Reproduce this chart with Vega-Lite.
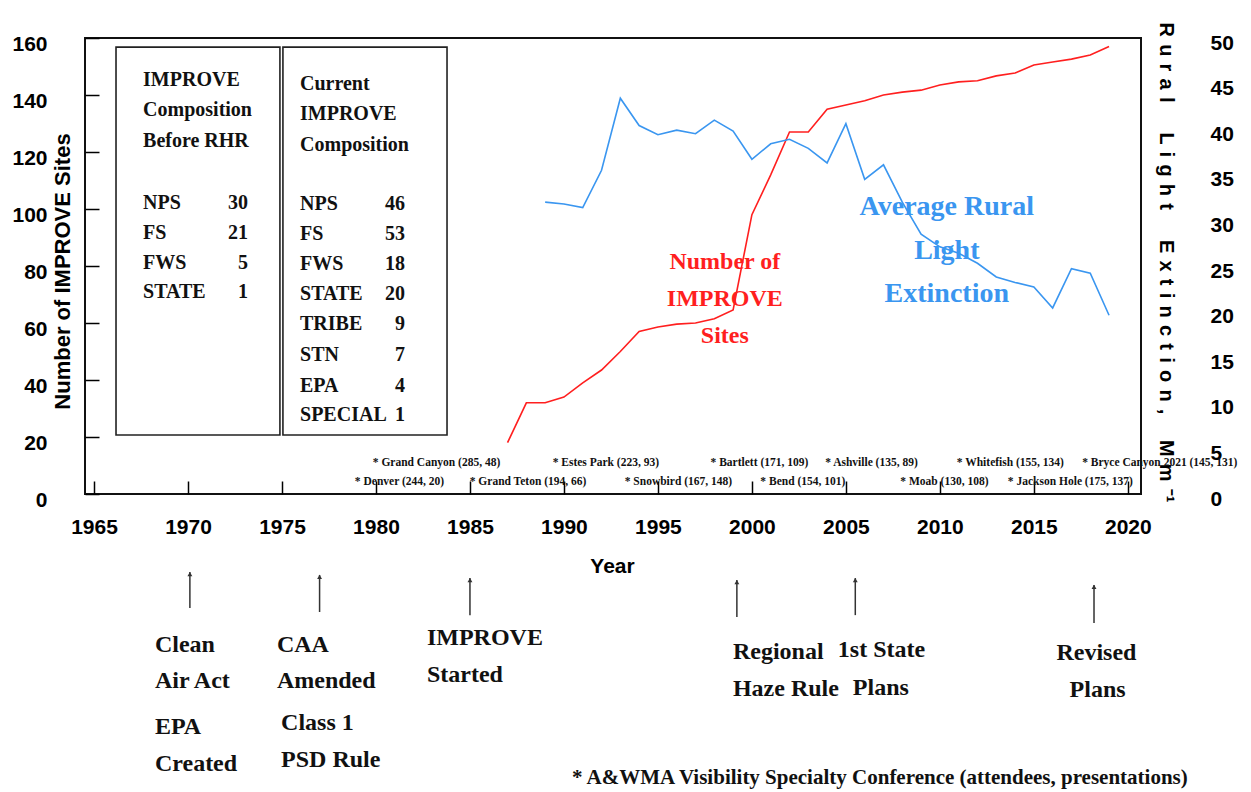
{
  "$schema": "https://vega.github.io/schema/vega-lite/v6.json",
  "width": 1056,
  "height": 456,
  "autosize": {"type": "none"},
  "padding": {"left": 85, "top": 38, "right": 110, "bottom": 298},
  "background": "white",
  "config": {
    "view": {"stroke": "#111", "strokeWidth": 2},
    "axis": {"grid": false, "labelFont": "Liberation Sans", "labelFontWeight": "bold", "labelFontSize": 21, "labelColor": "#000", "titleFont": "Liberation Sans", "titleFontWeight": "bold", "titleColor": "#000", "labelOverlap": false, "labelFlush": false}
  },
  "datasets": {
    "sites": [
      {"year": 1987, "sites": 18}, {"year": 1988, "sites": 32}, {"year": 1989, "sites": 32}, {"year": 1990, "sites": 34},
      {"year": 1991, "sites": 39}, {"year": 1992, "sites": 43.5}, {"year": 1993, "sites": 50}, {"year": 1994, "sites": 57},
      {"year": 1995, "sites": 58.6}, {"year": 1996, "sites": 59.6}, {"year": 1997, "sites": 60}, {"year": 1998, "sites": 61.5},
      {"year": 1999, "sites": 64.6}, {"year": 2000, "sites": 98}, {"year": 2001, "sites": 112}, {"year": 2002, "sites": 127},
      {"year": 2003, "sites": 127}, {"year": 2004, "sites": 135}, {"year": 2005, "sites": 136.5}, {"year": 2006, "sites": 138},
      {"year": 2007, "sites": 140}, {"year": 2008, "sites": 141}, {"year": 2009, "sites": 141.7}, {"year": 2010, "sites": 143.5},
      {"year": 2011, "sites": 144.6}, {"year": 2012, "sites": 145}, {"year": 2013, "sites": 146.7}, {"year": 2014, "sites": 147.7},
      {"year": 2015, "sites": 150.5}, {"year": 2016, "sites": 151.6}, {"year": 2017, "sites": 152.6}, {"year": 2018, "sites": 154},
      {"year": 2019, "sites": 157}
    ],
    "extinction": [
      {"year": 1989, "ext": 32.0}, {"year": 1990, "ext": 31.8}, {"year": 1991, "ext": 31.4}, {"year": 1992, "ext": 35.5},
      {"year": 1993, "ext": 43.4}, {"year": 1994, "ext": 40.4}, {"year": 1995, "ext": 39.4}, {"year": 1996, "ext": 39.9},
      {"year": 1997, "ext": 39.5}, {"year": 1998, "ext": 41.0}, {"year": 1999, "ext": 39.8}, {"year": 2000, "ext": 36.7},
      {"year": 2001, "ext": 38.4}, {"year": 2002, "ext": 38.9}, {"year": 2003, "ext": 37.9}, {"year": 2004, "ext": 36.3},
      {"year": 2005, "ext": 40.6}, {"year": 2006, "ext": 34.5}, {"year": 2007, "ext": 36.1}, {"year": 2008, "ext": 32.0},
      {"year": 2009, "ext": 28.5}, {"year": 2010, "ext": 27.1}, {"year": 2011, "ext": 26.4}, {"year": 2012, "ext": 25.3},
      {"year": 2013, "ext": 23.8}, {"year": 2014, "ext": 23.2}, {"year": 2015, "ext": 22.7}, {"year": 2016, "ext": 20.4},
      {"year": 2017, "ext": 24.7}, {"year": 2018, "ext": 24.2}, {"year": 2019, "ext": 19.6}
    ],
    "boxes": [
      {"x0": 1966.17, "x1": 1974.89, "y0": 156.8, "y1": 20.7},
      {"x0": 1975.05, "x1": 1983.78, "y0": 156.8, "y1": 20.7}
    ],
    "boxLabels": [
      {"year": 1967.61, "v": 145.3, "text": "IMPROVE"},
      {"year": 1967.61, "v": 134.7, "text": "Composition"},
      {"year": 1967.61, "v": 123.9, "text": "Before RHR"},
      {"year": 1967.61, "v": 102.1, "text": "NPS"},
      {"year": 1967.61, "v": 91.6, "text": "FS"},
      {"year": 1967.61, "v": 81.1, "text": "FWS"},
      {"year": 1967.61, "v": 70.9, "text": "STATE"},
      {"year": 1975.96, "v": 143.9, "text": "Current"},
      {"year": 1975.96, "v": 133.3, "text": "IMPROVE"},
      {"year": 1975.96, "v": 122.5, "text": "Composition"},
      {"year": 1975.96, "v": 101.8, "text": "NPS"},
      {"year": 1975.96, "v": 91.2, "text": "FS"},
      {"year": 1975.96, "v": 80.7, "text": "FWS"},
      {"year": 1975.96, "v": 70.2, "text": "STATE"},
      {"year": 1975.96, "v": 59.6, "text": "TRIBE"},
      {"year": 1975.96, "v": 48.8, "text": "STN"},
      {"year": 1975.96, "v": 37.9, "text": "EPA"},
      {"year": 1975.96, "v": 27.7, "text": "SPECIAL"}
    ],
    "boxNumbers": [
      {"year": 1973.19, "v": 102.1, "text": "30"},
      {"year": 1973.19, "v": 91.6, "text": "21"},
      {"year": 1973.19, "v": 81.1, "text": "5"},
      {"year": 1973.19, "v": 70.9, "text": "1"},
      {"year": 1981.54, "v": 101.8, "text": "46"},
      {"year": 1981.54, "v": 91.2, "text": "53"},
      {"year": 1981.54, "v": 80.7, "text": "18"},
      {"year": 1981.54, "v": 70.2, "text": "20"},
      {"year": 1981.54, "v": 59.6, "text": "9"},
      {"year": 1981.54, "v": 48.8, "text": "7"},
      {"year": 1981.54, "v": 37.9, "text": "4"},
      {"year": 1981.54, "v": 27.7, "text": "1"}
    ],
    "conferences": [
      {"year": 1983.22, "v": 11.0, "text": "* Grand Canyon (285, 48)"},
      {"year": 1992.23, "v": 11.0, "text": "* Estes Park (223, 93)"},
      {"year": 2000.40, "v": 11.0, "text": "* Bartlett (171, 109)"},
      {"year": 2006.36, "v": 11.0, "text": "* Ashville (135, 89)"},
      {"year": 2013.75, "v": 11.0, "text": "* Whitefish (155, 134)"},
      {"year": 2021.70, "v": 11.0, "text": "* Bryce Canyon 2021 (145, 131)"},
      {"year": 1981.25, "v": 4.2, "text": "* Denver (244, 20)"},
      {"year": 1988.09, "v": 4.2, "text": "* Grand Teton (194, 66)"},
      {"year": 1996.09, "v": 4.2, "text": "* Snowbird (167, 148)"},
      {"year": 2002.71, "v": 4.2, "text": "* Bend (154, 101)"},
      {"year": 2010.24, "v": 4.2, "text": "* Moab (130, 108)"},
      {"year": 2016.94, "v": 4.2, "text": "* Jackson Hole (175, 137)"}
    ],
    "sitesLabel": [
      {"year": 1998.56, "v": 81.4, "text": "Number of"},
      {"year": 1998.56, "v": 68.4, "text": "IMPROVE"},
      {"year": 1998.56, "v": 55.4, "text": "Sites"}
    ],
    "extLabel": [
      {"year": 2010.37, "v": 100.7, "text": "Average Rural"},
      {"year": 2010.37, "v": 85.3, "text": "Light"},
      {"year": 2010.37, "v": 70.2, "text": "Extinction"}
    ],
    "arrows": [
      {"year": 1970.1, "top": -27.4, "bottom": -40.0},
      {"year": 1977.0, "top": -28.4, "bottom": -41.4},
      {"year": 1985.0, "top": -29.5, "bottom": -42.5},
      {"year": 1999.2, "top": -30.2, "bottom": -43.2},
      {"year": 2005.5, "top": -29.5, "bottom": -42.5},
      {"year": 2018.2, "top": -31.9, "bottom": -45.3}
    ],
    "events": [
      {"year": 1968.24, "v": -53.0, "text": "Clean"},
      {"year": 1968.24, "v": -65.6, "text": "Air Act"},
      {"year": 1968.24, "v": -81.8, "text": "EPA"},
      {"year": 1968.24, "v": -94.7, "text": "Created"},
      {"year": 1974.73, "v": -53.0, "text": "CAA"},
      {"year": 1974.73, "v": -65.6, "text": "Amended"},
      {"year": 1974.95, "v": -80.4, "text": "Class 1"},
      {"year": 1974.95, "v": -93.3, "text": "PSD Rule"},
      {"year": 1982.71, "v": -50.5, "text": "IMPROVE"},
      {"year": 1982.71, "v": -63.5, "text": "Started"},
      {"year": 1998.99, "v": -55.4, "text": "Regional"},
      {"year": 1998.99, "v": -68.4, "text": "Haze Rule"},
      {"year": 2004.57, "v": -54.7, "text": "1st State"},
      {"year": 2005.37, "v": -68.1, "text": "Plans"},
      {"year": 2016.2, "v": -55.8, "text": "Revised"},
      {"year": 2016.9, "v": -68.8, "text": "Plans"}
    ],
    "footnote": [
      {"year": 1990.43, "v": -99.6, "text": "* A&WMA Visibility Specialty Conference (attendees, presentations)"}
    ]
  },
  "layer": [
    {
      "layer": [
        {
          "data": {"name": "sites"},
          "mark": {"type": "line", "color": "#ff1f1f", "strokeWidth": 1.6},
          "encoding": {
            "x": {"field": "year", "type": "quantitative", "scale": {"domain": [1964.52, 2020.7], "nice": false, "zero": false},
              "axis": {"values": [1965, 1970, 1975, 1980, 1985, 1990, 1995, 2000, 2005, 2010, 2015, 2020], "format": "d", "domain": false, "tickSize": -13, "tickColor": "#000", "tickWidth": 1.5, "labelPadding": 35, "title": "Year", "titleFontSize": 21, "titleX": 527, "titleY": 72, "titleBaseline": "middle", "titleAlign": "center"}},
            "y": {"field": "sites", "type": "quantitative", "scale": {"domain": [0, 160], "nice": false, "zero": false},
              "axis": {"values": [0, 20, 40, 60, 80, 100, 120, 140, 160], "domain": false, "tickSize": -14, "tickColor": "#000", "tickWidth": 1.5, "labelPadding": 52, "labelOffset": 6, "title": "Number of IMPROVE Sites", "titleFontSize": 22, "titleX": -23, "titleY": 233, "titleAngle": -90, "titleBaseline": "middle", "titleAlign": "center", "titleLimit": 1000}}
          }
        },
        {
          "data": {"name": "boxes"},
          "mark": {"type": "rect", "fill": null, "stroke": "#222", "strokeWidth": 1.6},
          "encoding": {
            "x": {"field": "x0", "type": "quantitative", "scale": {"domain": [1964.52, 2020.7], "nice": false, "zero": false}},
            "x2": {"field": "x1"},
            "y": {"field": "y0", "type": "quantitative", "scale": {"domain": [0, 160], "nice": false, "zero": false}},
            "y2": {"field": "y1"}
          }
        },
        {
          "data": {"name": "boxLabels"},
          "mark": {"type": "text", "font": "Liberation Serif", "fontWeight": "bold", "fontSize": 20, "align": "left", "baseline": "middle", "color": "#111"},
          "encoding": {
            "x": {"field": "year", "type": "quantitative", "scale": {"domain": [1964.52, 2020.7], "nice": false, "zero": false}},
            "y": {"field": "v", "type": "quantitative", "scale": {"domain": [0, 160], "nice": false, "zero": false}},
            "text": {"field": "text"}
          }
        },
        {
          "data": {"name": "boxNumbers"},
          "mark": {"type": "text", "font": "Liberation Serif", "fontWeight": "bold", "fontSize": 20, "align": "right", "baseline": "middle", "color": "#111"},
          "encoding": {
            "x": {"field": "year", "type": "quantitative", "scale": {"domain": [1964.52, 2020.7], "nice": false, "zero": false}},
            "y": {"field": "v", "type": "quantitative", "scale": {"domain": [0, 160], "nice": false, "zero": false}},
            "text": {"field": "text"}
          }
        },
        {
          "data": {"name": "conferences"},
          "mark": {"type": "text", "font": "Liberation Serif", "fontWeight": "bold", "fontSize": 11.5, "align": "center", "baseline": "middle", "color": "#111"},
          "encoding": {
            "x": {"field": "year", "type": "quantitative", "scale": {"domain": [1964.52, 2020.7], "nice": false, "zero": false}},
            "y": {"field": "v", "type": "quantitative", "scale": {"domain": [0, 160], "nice": false, "zero": false}},
            "text": {"field": "text"}
          }
        },
        {
          "data": {"name": "sitesLabel"},
          "mark": {"type": "text", "font": "Liberation Serif", "fontWeight": "bold", "fontSize": 24, "align": "center", "baseline": "middle", "color": "#ff1f1f"},
          "encoding": {
            "x": {"field": "year", "type": "quantitative", "scale": {"domain": [1964.52, 2020.7], "nice": false, "zero": false}},
            "y": {"field": "v", "type": "quantitative", "scale": {"domain": [0, 160], "nice": false, "zero": false}},
            "text": {"field": "text"}
          }
        },
        {
          "data": {"name": "extLabel"},
          "mark": {"type": "text", "font": "Liberation Serif", "fontWeight": "bold", "fontSize": 28, "align": "center", "baseline": "middle", "color": "#3a96f0"},
          "encoding": {
            "x": {"field": "year", "type": "quantitative", "scale": {"domain": [1964.52, 2020.7], "nice": false, "zero": false}},
            "y": {"field": "v", "type": "quantitative", "scale": {"domain": [0, 160], "nice": false, "zero": false}},
            "text": {"field": "text"}
          }
        },
        {
          "data": {"name": "arrows"},
          "mark": {"type": "rule", "color": "#333", "strokeWidth": 1.5},
          "encoding": {
            "x": {"field": "year", "type": "quantitative", "scale": {"domain": [1964.52, 2020.7], "nice": false, "zero": false}},
            "y": {"field": "top", "type": "quantitative", "scale": {"domain": [0, 160], "nice": false, "zero": false}},
            "y2": {"field": "bottom"}
          }
        },
        {
          "data": {"name": "arrows"},
          "mark": {"type": "point", "shape": "triangle-up", "filled": true, "color": "#333", "size": 24, "opacity": 1, "yOffset": 2},
          "encoding": {
            "x": {"field": "year", "type": "quantitative", "scale": {"domain": [1964.52, 2020.7], "nice": false, "zero": false}},
            "y": {"field": "top", "type": "quantitative", "scale": {"domain": [0, 160], "nice": false, "zero": false}}
          }
        },
        {
          "data": {"name": "events"},
          "mark": {"type": "text", "font": "Liberation Serif", "fontWeight": "bold", "fontSize": 24, "align": "left", "baseline": "middle", "color": "#111"},
          "encoding": {
            "x": {"field": "year", "type": "quantitative", "scale": {"domain": [1964.52, 2020.7], "nice": false, "zero": false}},
            "y": {"field": "v", "type": "quantitative", "scale": {"domain": [0, 160], "nice": false, "zero": false}},
            "text": {"field": "text"}
          }
        },
        {
          "data": {"name": "footnote"},
          "mark": {"type": "text", "font": "Liberation Serif", "fontWeight": "bold", "fontSize": 21, "align": "left", "baseline": "middle", "color": "#111"},
          "encoding": {
            "x": {"field": "year", "type": "quantitative", "scale": {"domain": [1964.52, 2020.7], "nice": false, "zero": false}},
            "y": {"field": "v", "type": "quantitative", "scale": {"domain": [0, 160], "nice": false, "zero": false}},
            "text": {"field": "text"}
          }
        }
      ]
    },
    {
      "data": {"name": "extinction"},
      "mark": {"type": "line", "color": "#3a96f0", "strokeWidth": 1.6},
      "encoding": {
        "x": {"field": "year", "type": "quantitative", "scale": {"domain": [1964.52, 2020.7], "nice": false, "zero": false}},
        "y": {"field": "ext", "type": "quantitative", "scale": {"domain": [0, 50], "nice": false, "zero": false},
          "axis": {"orient": "right", "values": [0, 5, 10, 15, 20, 25, 30, 35, 40, 45, 50], "domain": false, "ticks": false, "labelPadding": 69, "labelOffset": 5,
            "title": "R \u200au \u200ar \u200aa \u200al\u2003\u2002L \u200ai \u200ag \u200ah \u200at\u2003\u2002E \u200ax \u200at \u200ai \u200an \u200ac \u200at \u200ai \u200ao \u200an \u200a,\u2003 M \u200am \u200a\u207b\u00b9", "titleFontSize": 20, "titleAngle": 90, "titleX": 24, "titleY": 224, "titleAlign": "center", "titleBaseline": "middle", "titleLimit": 1000}}
      }
    }
  ],
  "resolve": {"scale": {"y": "independent"}}
}
